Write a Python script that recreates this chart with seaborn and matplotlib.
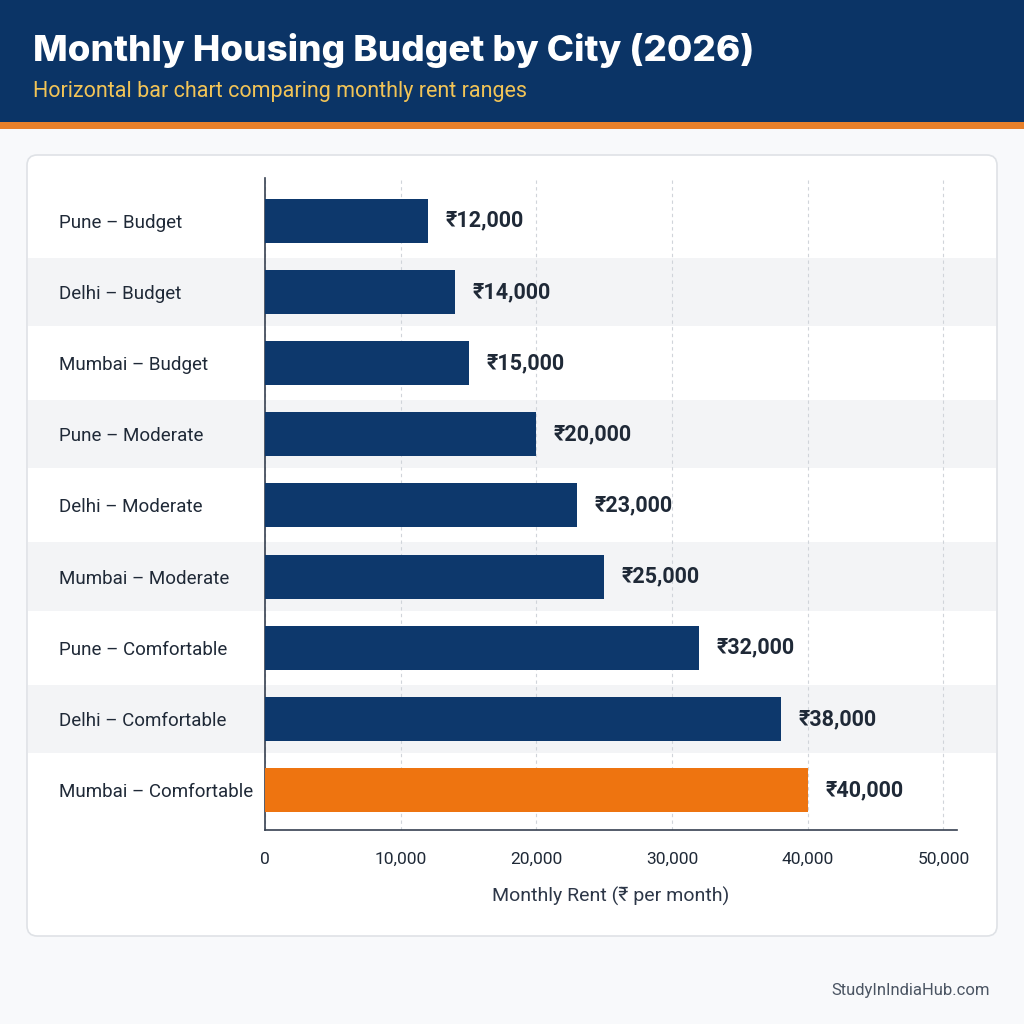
import matplotlib.pyplot as plt
from matplotlib.patches import Rectangle, FancyBboxPatch
from matplotlib.ticker import FuncFormatter
import matplotlib.transforms as mtransforms
import seaborn as sns

# data
labels = [
    "Pune – Budget", "Delhi – Budget", "Mumbai – Budget",
    "Pune – Moderate", "Delhi – Moderate", "Mumbai – Moderate",
    "Pune – Comfortable", "Delhi – Comfortable", "Mumbai – Comfortable",
]
rents = [12000, 14000, 15000, 20000, 23000, 25000, 32000, 38000, 40000]
x_ticks = [0, 10000, 20000, 30000, 40000, 50000]

NAVY = "#0d386c"
ORANGE = "#ee7410"
TEXT = "#1f2937"
colors = [NAVY] * 8 + [ORANGE]

sns.set_theme(style="white")
plt.rcParams["font.family"] = ["Roboto", "DejaVu Sans"]

fig = plt.figure(figsize=(10.24, 10.24), dpi=100)
fig.patch.set_facecolor("#f8f9fb")

# header band + orange rule
fig.patches.append(Rectangle((0, 1 - 122 / 1024), 1, 122 / 1024, transform=fig.transFigure,
                             facecolor="#0b3466", edgecolor="none", zorder=-2))
fig.patches.append(Rectangle((0, 1 - 129 / 1024), 1, 7 / 1024, transform=fig.transFigure,
                             facecolor="#e8802a", edgecolor="none", zorder=-2))
fig.text(33 / 1024, 1 - 50 / 1024, "Monthly Housing Budget by City (2026)", color="white",
         fontsize=26.5, fontweight="heavy", family=["Inter", "DejaVu Sans"], va="center")
fig.text(33 / 1024, 1 - 91 / 1024, "Horizontal bar chart comparing monthly rent ranges",
         color="#f2c457", fontsize=15.5, va="center")

# white card
fig.patches.append(FancyBboxPatch((27 / 1024, 1 - 936 / 1024), 970 / 1024, 781 / 1024,
                                  boxstyle="round,pad=0,rounding_size=0.01",
                                  transform=fig.transFigure, facecolor="white",
                                  edgecolor="#dfe2e6", linewidth=1.2, zorder=-2))

ax = fig.add_axes([265 / 1024, 1 - 830 / 1024, 692 / 1024, 652 / 1024])
ax.set_facecolor("none")

sns.barplot(x=rents, y=labels, hue=labels, palette=colors, legend=False,
            orient="h", width=0.62, saturation=1, linewidth=0, ax=ax, zorder=3)

# alternating row bands across the card
band_tr = mtransforms.blended_transform_factory(fig.transFigure, ax.transData)
for i in range(1, len(labels), 2):
    ax.add_patch(Rectangle((28 / 1024, i - 0.48), 968 / 1024, 0.96, transform=band_tr,
                           facecolor="#f3f4f6", edgecolor="none", zorder=0, clip_on=False))

ax.set_xlim(0, 51000)
ax.set_ylim(8.56, -0.60)
ax.set_xticks(x_ticks)
ax.xaxis.set_major_formatter(FuncFormatter(lambda v, p: f"{int(v):,}"))
ax.grid(axis="x", color="#d0d4da", linestyle=(0, (3, 3)), linewidth=0.8, zorder=1)
ax.set_axisbelow(True)

for i, v in enumerate(rents):
    ax.text(v + 1300, i, f"₹{v:,}", va="center", ha="left", fontsize=15.5,
            fontweight="bold", color=TEXT, family=["Roboto", "DejaVu Sans"])

for s in ["top", "right"]:
    ax.spines[s].set_visible(False)
for s in ["left", "bottom"]:
    ax.spines[s].set_color("#374151")
    ax.spines[s].set_linewidth(1.2)

ax.tick_params(axis="y", length=0, pad=148, labelsize=13.5, labelcolor=TEXT)
for t in ax.get_yticklabels():
    t.set_horizontalalignment("left")
ax.tick_params(axis="x", length=0, pad=16, labelsize=12.5, labelcolor=TEXT)
ax.set_ylabel("")
ax.set_xlabel("Monthly Rent (₹ per month)", fontsize=14, color="#2d3748", labelpad=14)

fig.text(990 / 1024, 1 - 990 / 1024, "StudyInIndiaHub.com", ha="right", va="center",
         fontsize=12, color="#4b5563")

fig.savefig("out.png", dpi=100, facecolor=fig.get_facecolor())
